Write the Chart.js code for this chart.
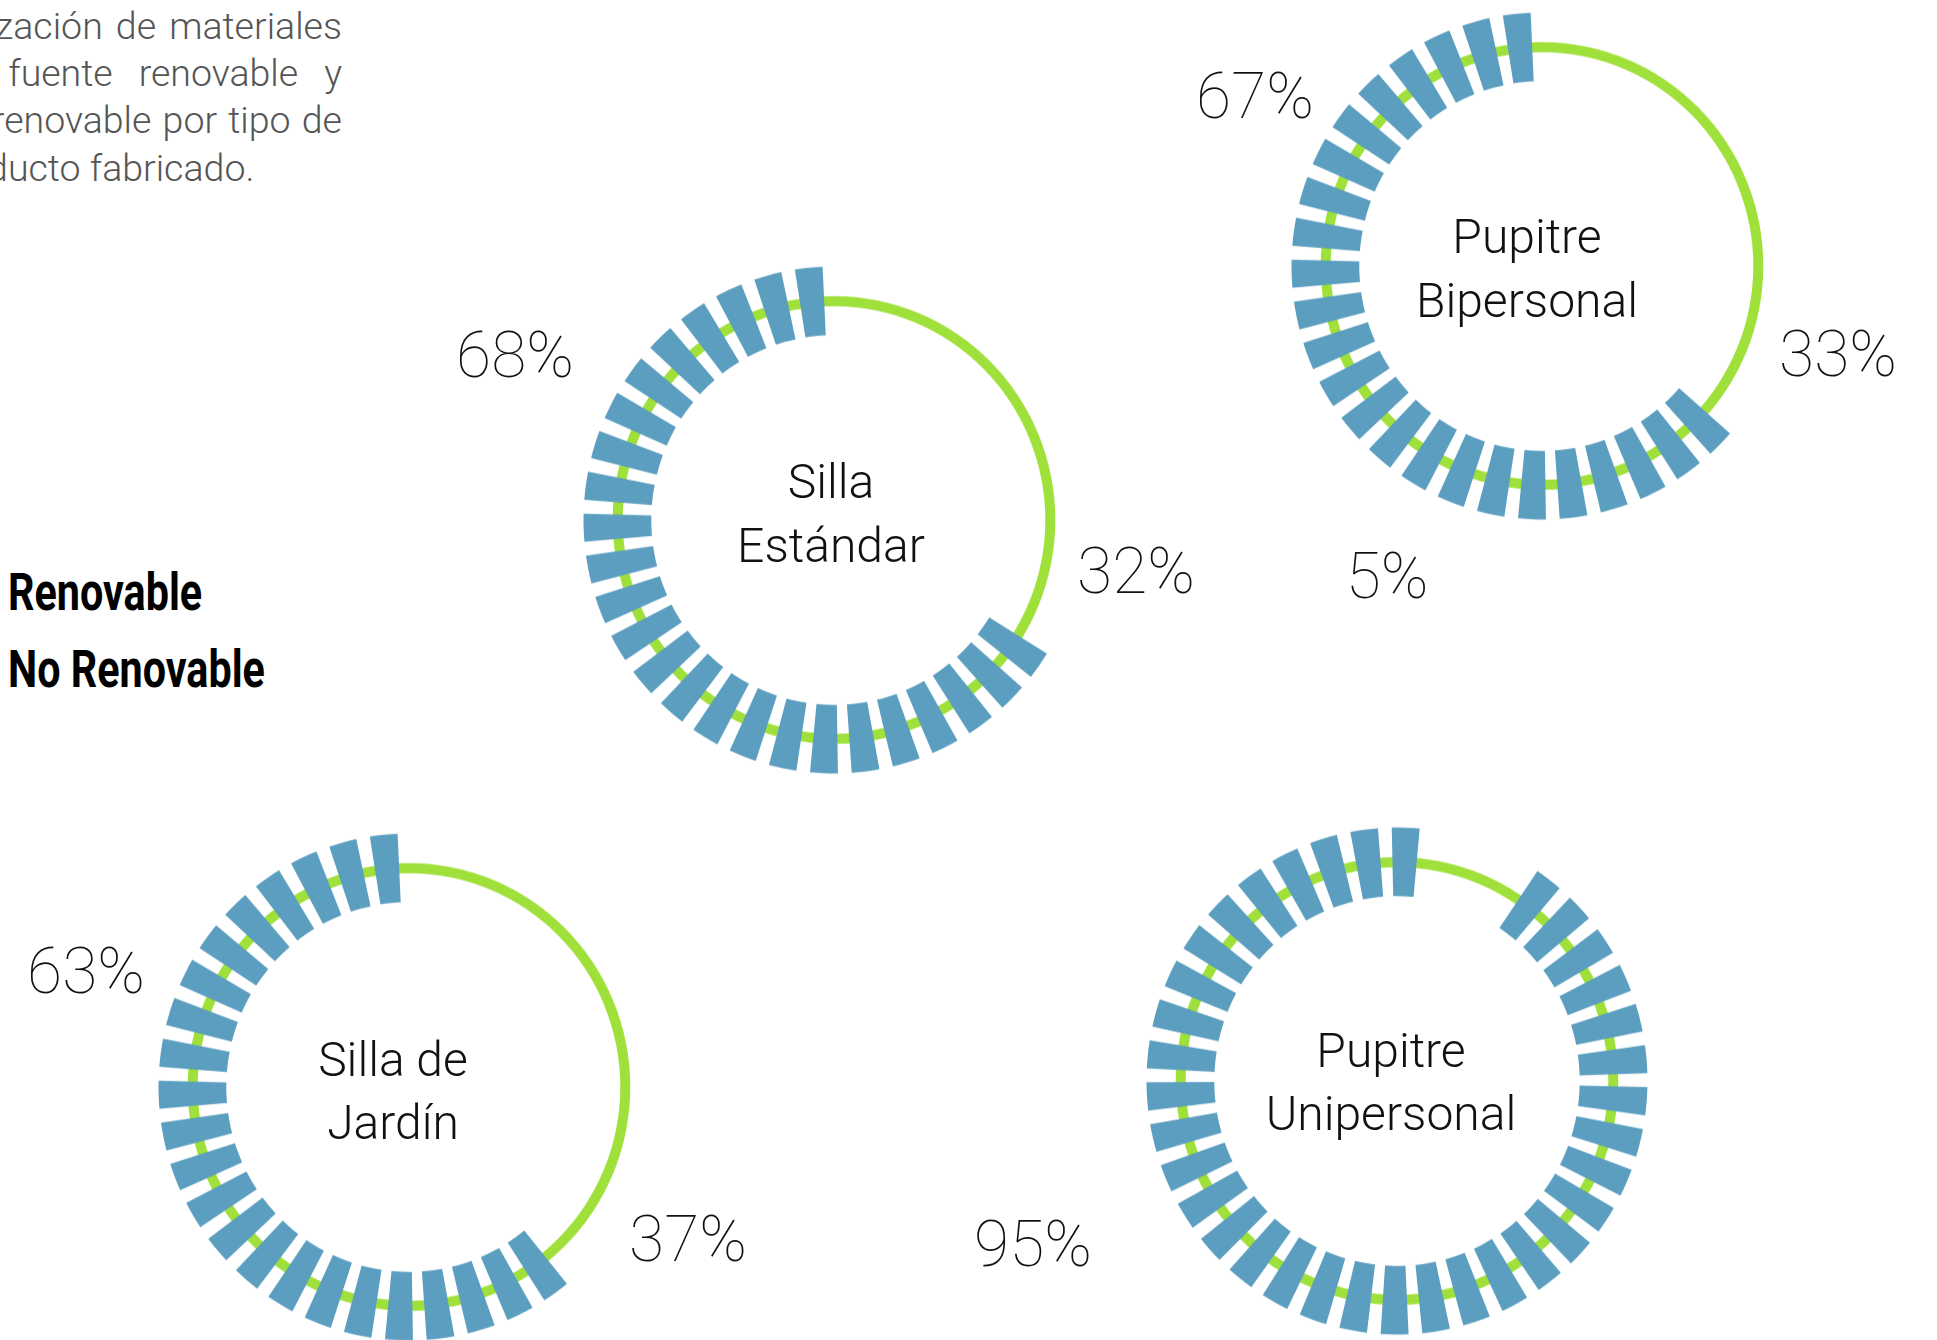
<!DOCTYPE html>
<html>
<head>
<meta charset="utf-8">
<script src="https://cdn.jsdelivr.net/npm/chart.js@4.4.0/dist/chart.umd.min.js"></script>
<style>
  html, body { margin: 0; padding: 0; background: #ffffff; }
  body { width: 1937px; height: 1340px; position: relative; overflow: hidden; font-family: Roboto, "Noto Sans", sans-serif; }
  .donut { position: absolute; width: 520px; height: 520px; transform: scale(1, 1.012); transform-origin: 50% 50%; }
  .donut canvas { position: absolute; left: 0; top: 0; }
  .txt { position: absolute; white-space: nowrap; line-height: 1; }
  .intro { position: absolute; left: -67px; top: 2.5px; width: 409px; font-weight: 300; font-size: 37.5px; color: #555555; }
  .intro div { height: 47.4px; line-height: 47.4px; text-align: justify; text-align-last: justify; white-space: nowrap; }
  .intro div.l2 { margin-left: 9px; }
  .intro div.l3 { margin-left: 6px; }
  .intro div.last { text-align-last: left; }
  .legend { position: absolute; left: 8px; font-weight: 700; font-size: 51px; color: #000; transform: scaleX(0.81); transform-origin: 0 0; white-space: nowrap; line-height: 1; }
</style>
</head>
<body>
<div class="intro">
  <div>Utilización de materiales</div>
  <div class="l2">de fuente renovable y</div>
  <div class="l3">no renovable por tipo de</div>
  <div class="last">producto fabricado.</div>
</div>
<div id="legend"></div>
<div id="stage"></div>
<script>
// ---------------- DATA ----------------
const productLines = [["Pupitre", "Bipersonal"], ["Silla", "Estándar"], ["Silla de", "Jardín"], ["Pupitre", "Unipersonal"]];
const nonRenewable = [67, 68, 63, 95];   // blue segmented arc (No Renovable)
const renewable = [33, 32, 37, 5];       // green ring share (Renovable)
const blueSegments = [24, 25, 23, 35];   // number of blue blocks counted in each ring
const legendLabels = ["Renovable", "No Renovable"];

// ---------------- STYLE / LAYOUT ----------------
const BLUE = "#5b9ebf";
const GREEN = "#a0e03a";
const NONE = "rgba(0,0,0,0)";
const PITCH = 9.55, SEG = 6.4;
const R_OUT = 250.5, R_IN = 182.7, G_OUT = 221.3, G_IN = 211.3;
const HALF = 260;
const layout = [
  { cx: 1542, cy: 266, end: -2.6, labelX: 1527, labelY: [253, 317], nrPos: [1255, 119], rPos: [1838, 377] },
  { cx: 833.7, cy: 520, end: -2.6, labelX: 831, labelY: [498, 562], nrPos: [515, 378], rPos: [1136, 594] },
  { cx: 408.5, cy: 1087, end: -2.6, labelX: 393, labelY: [1076, 1139], nrPos: [86, 994], rPos: [688, 1262] },
  { cx: 1397, cy: 1081, end: 5.2, labelX: 1391, labelY: [1067, 1130], nrPos: [1033, 1267], rPos: [1387, 599] }
];

function placeText(str, x, baseline, size, weight, color) {
  const d = document.createElement("div");
  d.className = "txt";
  d.textContent = str;
  d.style.fontSize = size + "px";
  d.style.fontWeight = weight;
  d.style.color = color;
  d.style.top = (baseline - 0.842 * size) + "px";
  d.style.left = x + "px";
  d.style.transform = "translateX(-50%)";
  document.body.appendChild(d);
}

// legend (text only, as in the reference)
const lg = document.getElementById("legend");
[610, 687].forEach((b, i) => {
  const d = document.createElement("div");
  d.className = "legend";
  d.textContent = legendLabels[i];
  d.style.top = (b - 0.842 * 51) + "px";
  lg.appendChild(d);
});

const stage = document.getElementById("stage");
const baseOpts = {
  responsive: false,
  animation: false,
  events: [],
  layout: { padding: 0 },
  plugins: { legend: { display: false }, tooltip: { enabled: false }, title: { display: false } }
};

productLines.forEach((lines, k) => {
  const L = layout[k];
  const box = document.createElement("div");
  box.className = "donut";
  box.style.left = (L.cx - HALF) + "px";
  box.style.top = (L.cy - HALF) + "px";
  stage.appendChild(box);

  const c1 = document.createElement("canvas");
  c1.width = 2 * HALF; c1.height = 2 * HALF;
  const c2 = document.createElement("canvas");
  c2.width = 2 * HALF; c2.height = 2 * HALF;
  box.appendChild(c1); box.appendChild(c2);

  // green thin ring (Renovable base ring)
  new Chart(c1, {
    type: "doughnut",
    data: { labels: [legendLabels[0]], datasets: [{ data: [100], backgroundColor: [GREEN], borderWidth: 0, hoverOffset: 0 }] },
    options: Object.assign({}, baseOpts, { radius: G_OUT, cutout: (G_IN / G_OUT * 100) + "%" })
  });

  // blue segmented arc (No Renovable)
  const n = blueSegments[k];
  const span = (n - 1) * PITCH + SEG;
  const start = L.end - span;
  const data = [], colors = [], labels = [];
  for (let i = 0; i < n; i++) {
    data.push(SEG); colors.push(BLUE); labels.push(legendLabels[1]);
    if (i < n - 1) { data.push(PITCH - SEG); colors.push(NONE); labels.push(""); }
  }
  data.push(360 - span); colors.push(NONE); labels.push("");
  new Chart(c2, {
    type: "doughnut",
    data: { labels: labels, datasets: [{ data: data, backgroundColor: colors, borderWidth: 0, hoverOffset: 0 }] },
    options: Object.assign({}, baseOpts, { rotation: start, circumference: 360, radius: R_OUT, cutout: (R_IN / R_OUT * 100) + "%" })
  });

  // center label
  lines.forEach((t, j) => placeText(t, L.labelX, L.labelY[j], 48, 300, "#111"));
  // percentage labels
  placeText(nonRenewable[k] + "%", L.nrPos[0], L.nrPos[1], 64, 100, "#111");
  placeText(renewable[k] + "%", L.rPos[0], L.rPos[1], 64, 100, "#111");
});
</script>
</body>
</html>
